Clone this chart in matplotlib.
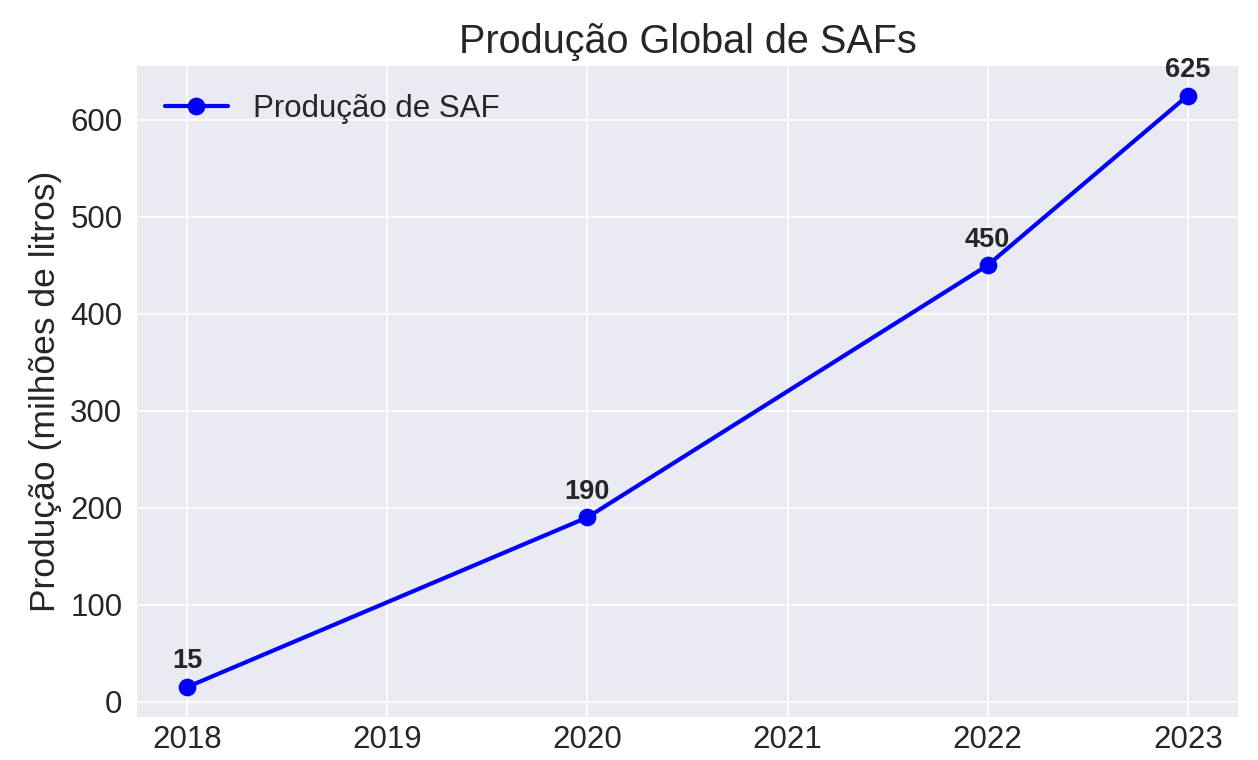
import matplotlib
matplotlib.use("Agg")
import matplotlib.pyplot as plt

plt.style.use("seaborn-v0_8-darkgrid")
plt.rcParams['font.family'] = ['Liberation Sans', 'DejaVu Sans']

# Dados de produção
anos = [2018, 2020, 2022, 2023]
producao = [15, 190, 450, 625]

fig, ax = plt.subplots(figsize=(8.393, 5.067), dpi=150)
ax.plot(anos, producao, marker='o', color='blue', linewidth=2, markersize=7.5,
        label='Produção de SAF')

# Rótulos dos valores
for x, y in zip(anos, producao):
    ax.annotate(str(y), (x, y), textcoords="offset points", xytext=(0, 9),
                ha='center', fontsize=13, fontweight='bold', color='#262626')

ax.set_title("Produção Global de SAFs", fontsize=19)
ax.set_ylabel("Produção (milhões de litros)", fontsize=17)
ax.tick_params(axis='y', labelsize=15, pad=7)
ax.tick_params(axis='x', labelsize=15, pad=4)
ax.set_xticks(range(2018, 2024))
ax.legend(fontsize=15, loc='upper left')
fig.subplots_adjust(left=0.1088, right=0.9833, top=0.9132, bottom=0.0570)

plt.savefig("out.png")
